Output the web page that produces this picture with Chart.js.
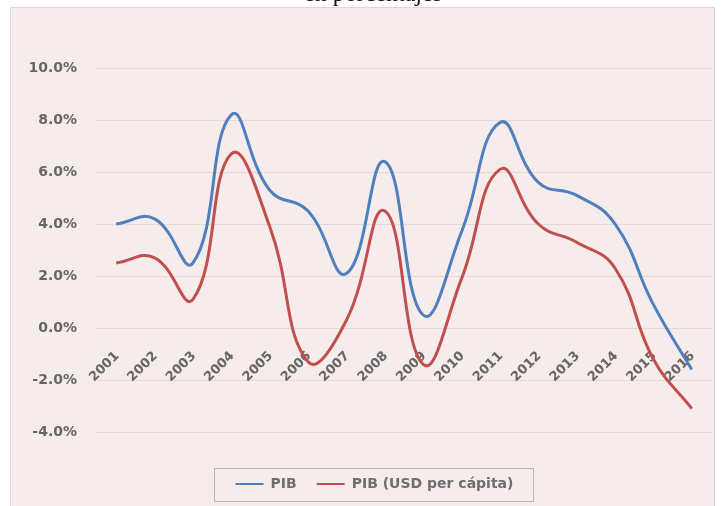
<!DOCTYPE html>
<html>
<head>
<meta charset="utf-8">
<script src="https://cdn.jsdelivr.net/npm/chart.js@4.4.1/dist/chart.umd.min.js"></script>
<style>
  html, body { margin: 0; padding: 0; background: #ffffff; }
  #wrap { position: relative; width: 723px; height: 506px; }
</style>
</head>
<body>
<div id="wrap"><canvas id="chart" width="723" height="506"></canvas></div>
<script>
// values (percent)
const years = ['2001', '2002', '2003', '2004', '2005', '2006', '2007', '2008',
  '2009', '2010', '2011', '2012', '2013', '2014', '2015', '2016'];
const pib = [4.0, 4.2, 2.5, 8.2, 5.3, 4.5, 2.1, 6.4, 0.5, 3.7, 7.9, 5.6, 5.1, 4.0, 0.9, -1.6];
const pibPerCapita = [2.5, 2.7, 1.1, 6.7, 3.9, -1.3, 0.3, 4.5, -1.4, 1.9, 6.1, 4.0, 3.3, 2.3, -1.2, -3.1];
const seriesNames = ['PIB', 'PIB (USD per cápita)'];
const titleText = 'en porcentajes';

const blue = '#4f7fbd';
const red = '#c0504d';
const labelGray = '#666666';

// pink panel + cropped title on top
const panelPlugin = {
  id: 'panel',
  beforeDraw(chart) {
    const ctx = chart.ctx;
    ctx.save();
    ctx.fillStyle = '#ffffff';
    ctx.fillRect(0, 0, chart.width, chart.height);
    ctx.fillStyle = '#f6ecec';
    ctx.fillRect(10, 7, 705, 499);
    ctx.strokeStyle = '#e6d4d4';
    ctx.lineWidth = 1;
    ctx.strokeRect(10.5, 7.5, 704, 500);
    ctx.fillStyle = '#111111';
    ctx.font = '24px "Liberation Serif", serif';
    ctx.textAlign = 'center';
    ctx.textBaseline = 'alphabetic';
    ctx.fillText(titleText, 373, 1);
    ctx.restore();
  }
};

// category labels sit under the zero line, rotated like Excel
const yearLabelsPlugin = {
  id: 'yearLabels',
  beforeDatasetsDraw(chart) {
    const ctx = chart.ctx;
    const xs = chart.scales.x;
    const y0 = chart.scales.y.getPixelForValue(0);
    ctx.save();
    ctx.fillStyle = labelGray;
    ctx.font = 'bold 13px "DejaVu Sans", sans-serif';
    ctx.textAlign = 'right';
    ctx.textBaseline = 'middle';
    years.forEach((yr, i) => {
      const x = xs.getPixelForValue(i);
      ctx.save();
      ctx.translate(x + 1, y0 + 26);
      ctx.rotate(-Math.PI / 4);
      ctx.fillText(yr, 0, 0);
      ctx.restore();
    });
    ctx.restore();
  }
};

// legend sits a bit right of centre in the original, with a frame round it
const legendBoxPlugin = {
  id: 'legendBox',
  afterLayout(chart) {
    const lg = chart.legend;
    if (!lg) return;
    lg.left += 19;
    lg.right += 19;
  },
  afterDraw(chart) {
    const lg = chart.legend;
    if (!lg || !lg.legendHitBoxes.length) return;
    const boxes = lg.legendHitBoxes;
    const first = boxes[0];
    const last = boxes[boxes.length - 1];
    const left = first.left - 22;
    const right = last.left + last.width + 19;
    const top = first.top - 9;
    const bottom = first.top + first.height + 10;
    const ctx = chart.ctx;
    ctx.save();
    ctx.strokeStyle = '#bdb4b4';
    ctx.lineWidth = 1;
    ctx.strokeRect(Math.round(left) + 0.5, Math.round(top) + 0.5, Math.round(right - left), Math.round(bottom - top));
    ctx.restore();
  }
};

new Chart(document.getElementById('chart'), {
  type: 'line',
  data: {
    labels: years,
    datasets: [
      {
        label: seriesNames[0],
        data: pib,
        borderColor: blue,
        backgroundColor: blue,
        borderWidth: 3,
        pointRadius: 0,
        tension: 0.45,
        fill: false
      },
      {
        label: seriesNames[1],
        data: pibPerCapita,
        borderColor: red,
        backgroundColor: red,
        borderWidth: 3,
        pointRadius: 0,
        tension: 0.45,
        fill: false
      }
    ]
  },
  options: {
    responsive: false,
    animation: false,
    layout: { padding: { left: 0, right: 12, top: 68, bottom: 5 } },
    scales: {
      x: {
        offset: true,
        grid: { display: false },
        border: { display: false },
        ticks: { display: false },
        afterFit: (s) => { s.height = 25; }
      },
      y: {
        min: -4,
        max: 10,
        border: { display: false },
        grid: { color: '#e4d9d9', drawTicks: false },
        ticks: {
          stepSize: 2,
          padding: 20,
          color: labelGray,
          font: { family: '"DejaVu Sans", sans-serif', size: 14, weight: 'bold' },
          callback: (v) => v.toFixed(1) + '%'
        },
        afterFit: (s) => { s.width = 97; }
      }
    },
    plugins: {
      legend: {
        position: 'bottom',
        labels: {
          boxWidth: 28,
          boxHeight: 2,
          padding: 20,
          color: '#6e6e6e',
          font: { family: '"DejaVu Sans", sans-serif', size: 14, weight: 'bold' },
          generateLabels: (chart) => Chart.defaults.plugins.legend.labels.generateLabels(chart)
            .map((item) => Object.assign(item, { lineWidth: 0 }))
        }
      },
      tooltip: { enabled: false }
    }
  },
  plugins: [panelPlugin, yearLabelsPlugin, legendBoxPlugin]
});
</script>
</body>
</html>
